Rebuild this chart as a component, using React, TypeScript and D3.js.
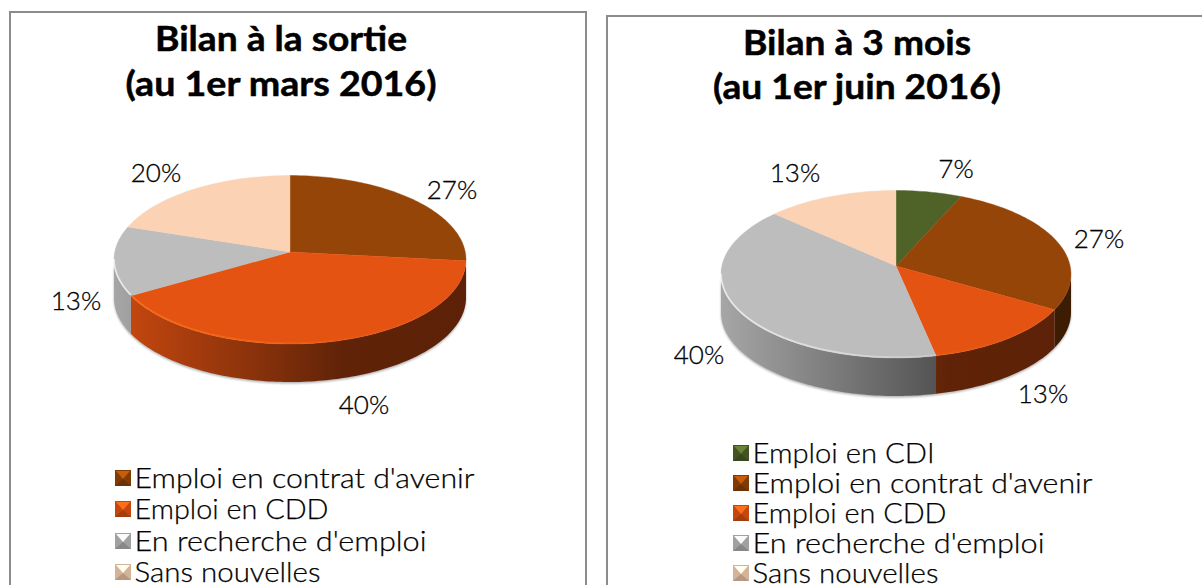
import React from "react";
import * as d3 from "d3";

const leftCategories = ["Emploi en contrat d'avenir", "Emploi en CDD", "En recherche d'emploi", "Sans nouvelles"];
const leftValues = [26.67, 40, 13.33, 20];
const leftColors = ["#964508", "#e55312", "#bdbdbd", "#fbd2b4"];

const rightCategories = ["Emploi en CDI", "Emploi en contrat d'avenir", "Emploi en CDD", "En recherche d'emploi", "Sans nouvelles"];
const rightValues = [6.67, 26.67, 13.33, 40, 13.33];
const rightColors = ["#4f6228", "#964508", "#e55312", "#bdbdbd", "#fbd2b4"];

const FONT = "Lato, 'Open Sans', sans-serif";

type PieCfg = {
  id: string;
  panelX: number; panelY: number; panelW: number;
  title: string[]; titleX: number; titleY: number[]; titleLen: number[];
  cats: string[]; vals: number[]; cols: string[];
  cx: number; cy: number; rx: number; back: number; front: number; depth: number;
  labels: [number, number][];
  legX: number; legY: number[]; legLen: number[];
};

const charts: PieCfg[] = [
  {
    id: "a", panelX: 10, panelY: 12, panelW: 576,
    title: ["Bilan à la sortie", "(au 1er mars 2016)"], titleX: 281, titleY: [51, 96], titleLen: [252, 311],
    cats: leftCategories, vals: leftValues, cols: leftColors,
    cx: 290, cy: 252, rx: 176, back: 76.5, front: 92, depth: 38,
    labels: [[452, 190], [364, 405], [76, 301], [156, 173]],
    legX: 115, legY: [478, 509, 541, 572], legLen: [340, 194, 292, 186],
  },
  {
    id: "b", panelX: 607, panelY: 16, panelW: 620,
    title: ["Bilan à 3 mois", "(au 1er juin 2016)"], titleX: 857, titleY: [55, 99], titleLen: [228, 288],
    cats: rightCategories, vals: rightValues, cols: rightColors,
    cx: 896, cy: 266, rx: 175, back: 75.5, front: 92, depth: 38,
    labels: [[956, 169], [1099, 239], [1043, 394], [699, 355], [795, 173]],
    legX: 733, legY: [453, 483, 513, 543, 573], legLen: [182, 340, 194, 292, 186],
  },
];

function shade(col: string, k: number) {
  const c = d3.rgb(col);
  return d3.rgb(c.r * k, c.g * k, c.b * k).formatHex();
}

function Pie({ c }: { c: PieCfg }) {
  const p = (c.front - c.back) / (c.front + c.back);
  const B = c.back * (1 + p);
  const A = c.rx * Math.sqrt(1 - p * p);
  const project = (a: number, dy = 0): [number, number] => {
    const u = Math.sin(a);
    const v = -Math.cos(a);
    const w = 1 - p * v;
    return [c.cx + (A * u) / w, c.cy + (B * v) / w + dy];
  };
  const arcs = d3.pie<number>().sort(null)(c.vals);
  const line = d3.line();
  const sample = (a0: number, a1: number, dy = 0) => {
    const n = Math.max(2, Math.ceil(Math.abs(a1 - a0) / 0.02));
    return d3.range(n + 1).map((i) => project(a0 + ((a1 - a0) * i) / n, dy));
  };
  const wallFrom = Math.acos(-p);
  const wallTo = 2 * Math.PI - wallFrom;
  const left = c.cx - c.rx;
  const xShade = d3.scaleLinear().domain([0, 0.65, 1]).range([0.88, 0.42, 0.4]);
  const rimFade = d3.scaleLinear().domain([0, 0.5, 0.8]).range([0.65, 0.3, 0]);
  const ts = [0, 0.2, 0.4, 0.65, 1];

  const outlineBottom = sample(wallFrom, wallTo, c.depth + 1.5);
  const outlineTop = sample(wallFrom, wallTo, 0).reverse();

  return (
    <g>
      <rect x={c.panelX} y={c.panelY} width={c.panelW} height={700} fill="#fff" stroke="#8c8c8c" strokeWidth={2} />
      <defs>
        <filter id={`blur-${c.id}`} x="-10%" y="-10%" width="120%" height="120%">
          <feGaussianBlur stdDeviation="1.3" />
        </filter>
        <filter id={`rimblur-${c.id}`} x="-10%" y="-10%" width="120%" height="120%">
          <feGaussianBlur stdDeviation="0.6" />
        </filter>
        {c.cols.map((col, i) => (
          <linearGradient key={i} id={`wall-${c.id}-${i}`} gradientUnits="userSpaceOnUse" x1={left} x2={left + 2 * c.rx} y1={0} y2={0}>
            {ts.map((t) => (
              <stop key={t} offset={t} stopColor={shade(col, xShade(t))} />
            ))}
          </linearGradient>
        ))}
        {c.cols.map((col, i) => (
          <linearGradient key={i} id={`rim-${c.id}-${i}`} gradientUnits="userSpaceOnUse" x1={left} x2={left + 2 * c.rx} y1={0} y2={0}>
            {ts.map((t) => (
              <stop key={t} offset={t} stopColor={d3.rgb(col).brighter(1.1).formatHex()} stopOpacity={rimFade(Math.min(t, 0.8))} />
            ))}
          </linearGradient>
        ))}
      </defs>

      <path d={line([...outlineBottom, ...outlineTop])! + "Z"} fill="#000" opacity={0.3} filter={`url(#blur-${c.id})`} />

      {arcs.map((d, i) => {
        const a0 = Math.max(d.startAngle, wallFrom);
        const a1 = Math.min(d.endAngle, wallTo);
        if (a1 <= a0) return null;
        const pts = [...sample(a0, a1, 0), ...sample(a1, a0, c.depth)];
        return <path key={i} d={line(pts)! + "Z"} fill={`url(#wall-${c.id}-${i})`} />;
      })}

      {arcs.map((d, i) => {
        const pts: [number, number][] = [[c.cx, c.cy], ...sample(d.startAngle, d.endAngle)];
        return <path key={i} d={line(pts)! + "Z"} fill={c.cols[i]} stroke={c.cols[i]} strokeWidth={0.4} />;
      })}

      {arcs.map((d, i) => {
        const a0 = Math.max(d.startAngle, wallFrom);
        const a1 = Math.min(d.endAngle, wallTo);
        if (a1 <= a0) return null;
        const inset = sample(a0, a1, -0.8);
        return <path key={i} d={line(inset)!} fill="none" stroke={`url(#rim-${c.id}-${i})`} strokeWidth={1.8} filter={`url(#rimblur-${c.id})`} />;
      })}

      {c.title.map((t, i) => (
        <text key={i} x={c.titleX} y={c.titleY[i]} textAnchor="middle" fontFamily={FONT} fontWeight={700} fontSize={35}
          stroke="#000" strokeWidth={0.5} textLength={c.titleLen[i]} lengthAdjust="spacingAndGlyphs" fill="#000">{t}</text>
      ))}

      {c.vals.map((v, i) => (
        <text key={i} x={c.labels[i][0]} y={c.labels[i][1]} dy="0.36em" textAnchor="middle" fontFamily={FONT} fontWeight={300}
          fontSize={26} stroke="#000" strokeWidth={0.3} fill="#000">{`${d3.format(".0f")(v)}%`}</text>
      ))}

      {c.cats.map((name, i) => {
        const x = c.legX, y = c.legY[i], s = 16;
        const x0 = x, x1 = x + s, y0 = y - s / 2, y1 = y + s / 2;
        const col = c.cols[i];
        const poly = (pts: number[][]) => pts.map((q) => q.join(",")).join(" ");
        const mx = x + s / 2, my = y + 1;
        return (
          <g key={i}>
            <rect x={x0} y={y0} width={s} height={s} fill={shade(col, 0.85)} />
            <polygon points={poly([[x0 + 1, y0 + 1], [x1 - 1, y0 + 1], [mx, my]])} fill={d3.rgb(col).brighter(0.8).formatHex()} />
            <polygon points={poly([[x0, y1], [x1, y1], [mx, my]])} fill={shade(col, 0.72)} />
            <text x={x + 19.5} y={y} dy="0.36em" fontFamily={FONT} fontWeight={300} fontSize={27}
              stroke="#000" strokeWidth={0.25} textLength={c.legLen[i]} lengthAdjust="spacingAndGlyphs" fill="#000">{name}</text>
          </g>
        );
      })}
    </g>
  );
}

export default function App() {
  return (
    <svg width={1202} height={585} viewBox="0 0 1202 585" style={{ position: "absolute", left: 0, top: 0, background: "#fff" }}>
      {charts.map((c) => (
        <Pie key={c.id} c={c} />
      ))}
    </svg>
  );
}
